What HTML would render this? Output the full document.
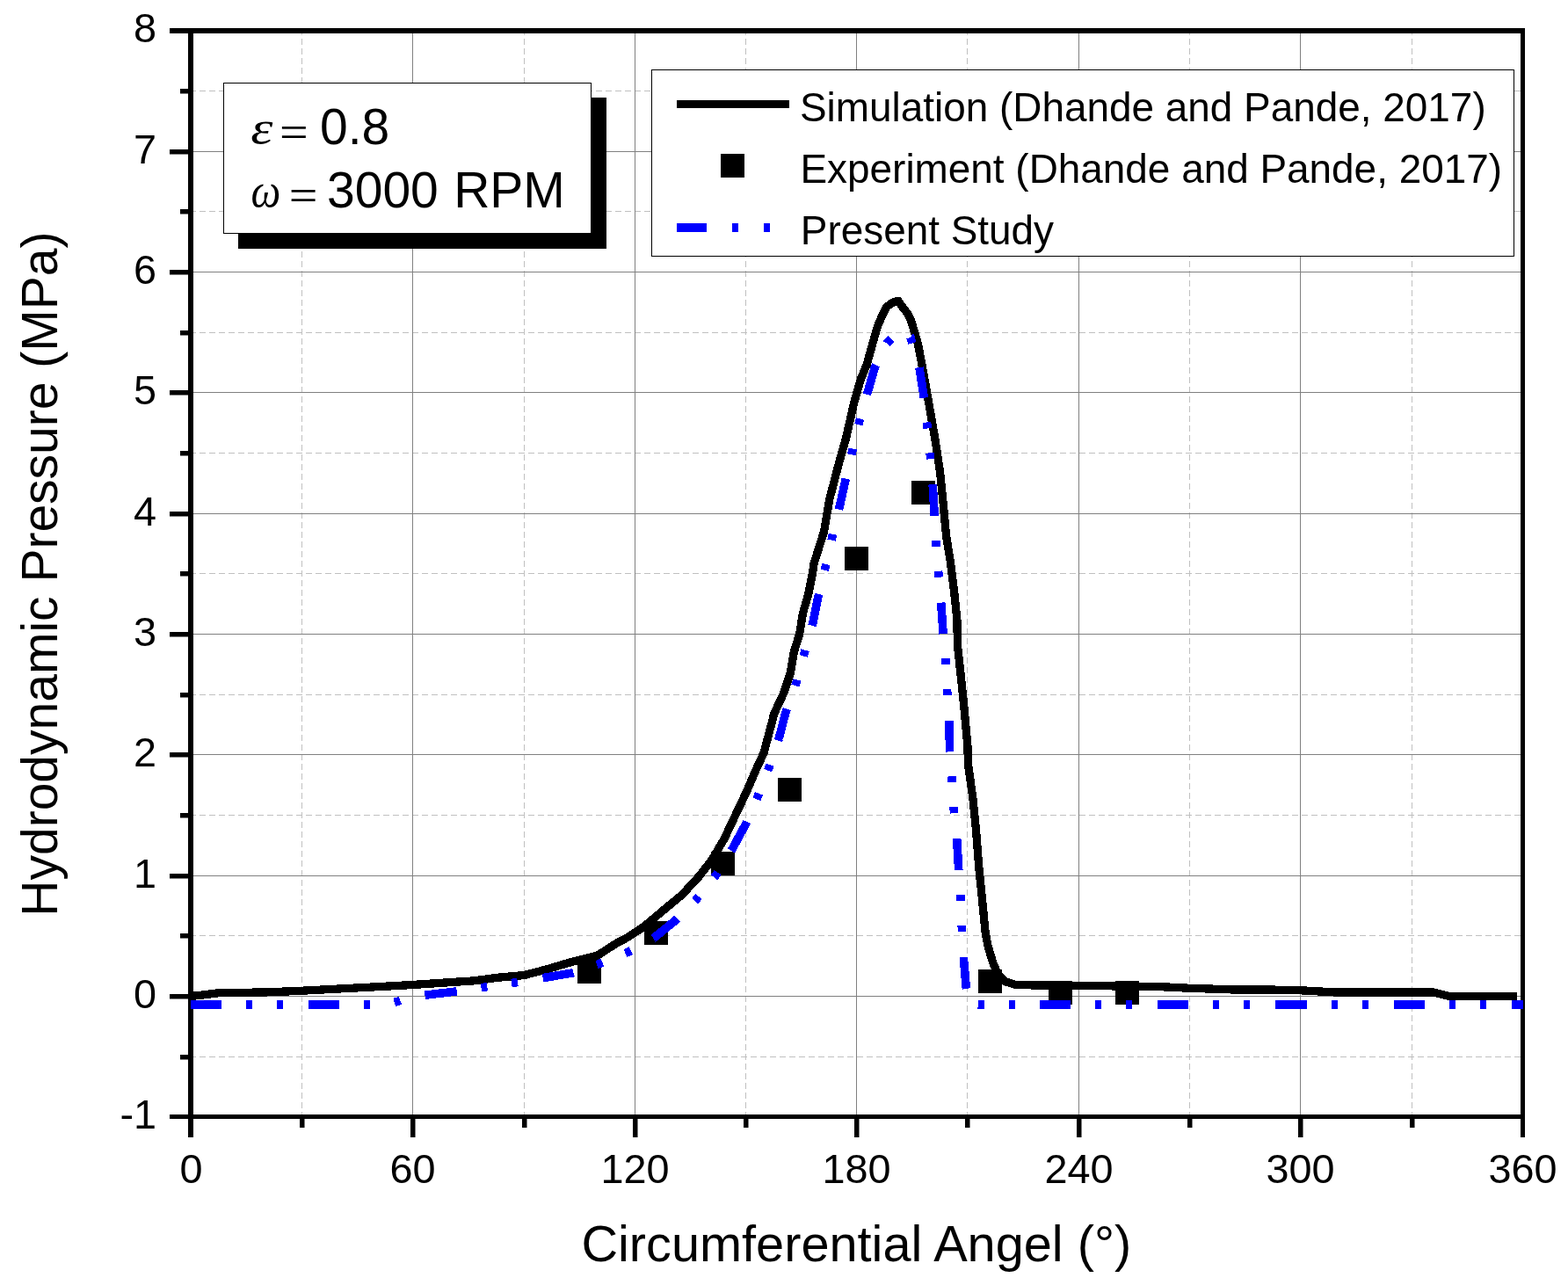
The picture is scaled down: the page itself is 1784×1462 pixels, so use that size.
<!DOCTYPE html>
<html><head><meta charset="utf-8"><title>Hydrodynamic Pressure</title>
<style>html,body{margin:0;padding:0;background:#fff;width:1784px;height:1462px;overflow:hidden}svg{display:block}</style>
</head><body>
<svg width="1784" height="1462" viewBox="0 0 1784 1462"><g stroke="#c0c0c0" stroke-width="1" stroke-dasharray="7 4" fill="none" shape-rendering="crispEdges"><line x1="343.5" y1="33" x2="343.5" y2="1268" /><line x1="596.5" y1="33" x2="596.5" y2="1268" /><line x1="848.5" y1="33" x2="848.5" y2="1268" /><line x1="1100.5" y1="33" x2="1100.5" y2="1268" /><line x1="1353.5" y1="33" x2="1353.5" y2="1268" /><line x1="1606.5" y1="33" x2="1606.5" y2="1268" /><line x1="216" y1="1202.5" x2="1730" y2="1202.5" /><line x1="216" y1="1064.5" x2="1730" y2="1064.5" /><line x1="216" y1="927.5" x2="1730" y2="927.5" /><line x1="216" y1="790.5" x2="1730" y2="790.5" /><line x1="216" y1="652.5" x2="1730" y2="652.5" /><line x1="216" y1="515.5" x2="1730" y2="515.5" /><line x1="216" y1="378.5" x2="1730" y2="378.5" /><line x1="216" y1="240.5" x2="1730" y2="240.5" /><line x1="216" y1="103.5" x2="1730" y2="103.5" /></g>
<g stroke="#808080" stroke-width="1" fill="none" shape-rendering="crispEdges"><line x1="469.5" y1="38" x2="469.5" y2="1268" /><line x1="722.5" y1="38" x2="722.5" y2="1268" /><line x1="974.5" y1="38" x2="974.5" y2="1268" /><line x1="1227.5" y1="38" x2="1227.5" y2="1268" /><line x1="1479.5" y1="38" x2="1479.5" y2="1268" /><line x1="220" y1="1133.5" x2="1730" y2="1133.5" /><line x1="220" y1="996.5" x2="1730" y2="996.5" /><line x1="220" y1="858.5" x2="1730" y2="858.5" /><line x1="220" y1="721.5" x2="1730" y2="721.5" /><line x1="220" y1="584.5" x2="1730" y2="584.5" /><line x1="220" y1="446.5" x2="1730" y2="446.5" /><line x1="220" y1="309.5" x2="1730" y2="309.5" /><line x1="220" y1="172.5" x2="1730" y2="172.5" /></g>
<g fill="#000"><rect x="193" y="32" width="1542" height="6" /><rect x="214" y="32" width="6" height="1262" /><rect x="193" y="1268" width="1542" height="5" /><rect x="1730" y="32" width="5" height="1262" /><rect x="341" y="1270" width="5.5" height="13" /><rect x="467" y="1270" width="5.5" height="24" /><rect x="594" y="1270" width="5.5" height="13" /><rect x="720" y="1270" width="5.5" height="24" /><rect x="846" y="1270" width="5.5" height="13" /><rect x="972" y="1270" width="5.5" height="24" /><rect x="1098" y="1270" width="5.5" height="13" /><rect x="1225" y="1270" width="5.5" height="24" /><rect x="1351" y="1270" width="5.5" height="13" /><rect x="1477" y="1270" width="5.5" height="24" /><rect x="1604" y="1270" width="5.5" height="13" /><rect x="205" y="1200" width="12" height="5.5" /><rect x="193" y="1131" width="24" height="5.5" /><rect x="205" y="1062" width="12" height="5.5" /><rect x="193" y="994" width="24" height="5.5" /><rect x="205" y="925" width="12" height="5.5" /><rect x="193" y="856" width="24" height="5.5" /><rect x="205" y="788" width="12" height="5.5" /><rect x="193" y="719" width="24" height="5.5" /><rect x="205" y="650" width="12" height="5.5" /><rect x="193" y="582" width="24" height="5.5" /><rect x="205" y="513" width="12" height="5.5" /><rect x="193" y="444" width="24" height="5.5" /><rect x="205" y="376" width="12" height="5.5" /><rect x="193" y="307" width="24" height="5.5" /><rect x="205" y="238" width="12" height="5.5" /><rect x="193" y="170" width="24" height="5.5" /><rect x="205" y="101" width="12" height="5.5" /></g>
<rect x="656.9" y="1091.9" width="27" height="27" fill="#000" shape-rendering="crispEdges" />
<rect x="733.0" y="1047.9" width="27" height="27" fill="#000" shape-rendering="crispEdges" />
<rect x="808.9" y="968.8" width="27" height="27" fill="#000" shape-rendering="crispEdges" />
<rect x="885.0" y="884.8" width="27" height="27" fill="#000" shape-rendering="crispEdges" />
<rect x="961.0" y="622.1" width="27" height="27" fill="#000" shape-rendering="crispEdges" />
<rect x="1037.0" y="546.7" width="27" height="27" fill="#000" shape-rendering="crispEdges" />
<rect x="1113.1" y="1103.4" width="27" height="27" fill="#000" shape-rendering="crispEdges" />
<rect x="1193.2" y="1116.0" width="27" height="27" fill="#000" shape-rendering="crispEdges" />
<rect x="1269.0" y="1115.8" width="27" height="27" fill="#000" shape-rendering="crispEdges" />
<polyline points="217.0,1133.6 250.0,1129.6 300.0,1129.0 340.0,1127.4 420.0,1123.2 469.5,1120.5 540.0,1115.8 566.9,1112.2 596.5,1109.5 620.7,1103.2 647.6,1095.2 680.0,1087.0 700.0,1074.0 714.0,1066.5 733.0,1054.0 757.0,1033.8 776.0,1018.0 795.0,997.5 810.0,978.3 824.0,954.4 836.9,927.1 849.2,901.2 860.3,875.4 868.9,856.9 873.8,838.5 878.8,820.0 880.5,812.5 891.5,788.9 899.4,765.3 903.3,741.7 909.6,721.5 913.5,697.6 919.8,675.6 924.5,651.9 926.1,640.9 931.6,623.6 937.5,605.0 943.8,567.8 954.7,526.2 962.6,498.4 971.5,458.8 979.5,431.0 986.2,414.9 992.3,392.7 998.5,371.2 1004.6,357.0 1008.9,349.0 1015.7,344.1 1021.9,342.2 1028.0,350.9 1032.9,357.0 1036.6,365.0 1040.3,377.3 1044.0,389.6 1046.5,402.0 1048.9,414.9 1056.8,458.8 1063.7,498.4 1069.7,538.1 1073.6,577.7 1076.6,609.9 1081.2,638.3 1086.0,676.6 1088.9,705.4 1089.4,734.1 1093.6,772.4 1097.5,810.7 1100.9,849.0 1101.5,870.0 1106.9,908.3 1110.7,946.6 1113.6,984.8 1116.5,1013.5 1119.3,1042.2 1121.2,1061.4 1124.1,1076.7 1129.9,1095.8 1135.6,1109.2 1144.2,1116.9 1155.7,1120.5 1180.0,1121.0 1222.5,1121.4 1315.0,1122.4 1352.0,1124.2 1407.5,1126.1 1440.0,1126.0 1474.8,1126.5 1521.7,1129.1 1631.1,1129.1 1648.5,1133.4 1725.8,1133.4" fill="none" stroke="#000" stroke-width="9.3" stroke-linejoin="round" shape-rendering="crispEdges" />
<g fill="none" stroke="#0000ff" stroke-width="9.6" stroke-dasharray="35 28 7 28 7 29" stroke-linejoin="miter" shape-rendering="crispEdges"><polyline points="217.0,1143.0 351.0,1143.0" /><polyline points="351.0,1143.0 386.0,1143.0 421.0,1143.0 440.0,1142.6 452.5,1139.3 465.0,1134.3 485.0,1132.0" /><polyline points="485.0,1132.0 519.0,1128.0 550.7,1123.2 585.7,1118.0 618.0,1112.6" /><polyline points="618.0,1112.6 652.1,1106.8 681.7,1096.5 714.6,1083.3 743.6,1067.4" /><polyline points="743.6,1067.4 768.5,1047.2 791.5,1024.3 815.0,995.1 833.2,965.8" /><polyline points="833.2,965.8 849.2,936.3 862.2,906.2 875.3,872.3 886.2,840.3" /><polyline points="886.2,840.3 893.5,812.0 905.6,777.9 915.1,743.2 924.5,710.2" /><polyline points="924.5,710.2 930.8,679.5 938.7,646.9 946.8,611.0 954.7,578.7" /><polyline points="954.7,578.7 961.6,548.0 969.2,515.3 977.5,480.6 986.4,448.9" /><polyline points="986.4,448.9 995.3,418.1 1009.2,390.4 1024.0,376.0 1036.0,383.8 1045.9,418.1" /><polyline points="1045.9,418.1 1050.8,448.9 1054.8,482.6 1058.4,518.3 1061.2,552.0" /><polyline points="1061.2,552.0 1063.1,583.7 1064.9,617.2 1067.8,652.7 1070.7,686.2" /><polyline points="1070.7,686.2 1073.0,718.8 1076.0,751.9 1077.7,787.4 1079.8,820.3" /><polyline points="1079.8,820.3 1080.6,854.8 1083.0,886.3 1085.3,922.1 1088.7,955.2" /><polyline points="1088.7,955.2 1090.6,987.7 1092.9,1021.2 1094.4,1057.2 1096.4,1090.1" /><polyline points="1096.4,1090.1 1099.2,1122.6 1102.5,1142.6 1114.5,1143.0 1183.1,1143.0" /><polyline points="1183.1,1143.0 1317.2,1143.0" /><polyline points="1317.2,1143.0 1452.2,1143.0" /><polyline points="1452.2,1143.0 1586.0,1143.0" /><polyline points="1586.0,1143.0 1721.0,1143.0" /><polyline points="1721.0,1143.0 1732.5,1143.0" /></g>
<g font-family="Liberation Sans, Arial, sans-serif" font-size="46.8" fill="#000"><text x="217.5" y="1345.5" text-anchor="middle">0</text><text x="469.5" y="1345.5" text-anchor="middle">60</text><text x="722.5" y="1345.5" text-anchor="middle">120</text><text x="974.5" y="1345.5" text-anchor="middle">180</text><text x="1227.5" y="1345.5" text-anchor="middle">240</text><text x="1479.5" y="1345.5" text-anchor="middle">300</text><text x="1732.5" y="1345.5" text-anchor="middle">360</text><text x="178" y="1283.8" text-anchor="end">-1</text><text x="178" y="1146.8" text-anchor="end">0</text><text x="178" y="1009.8" text-anchor="end">1</text><text x="178" y="871.8" text-anchor="end">2</text><text x="178" y="734.8" text-anchor="end">3</text><text x="178" y="597.8" text-anchor="end">4</text><text x="178" y="459.8" text-anchor="end">5</text><text x="178" y="322.8" text-anchor="end">6</text><text x="178" y="185.8" text-anchor="end">7</text><text x="178" y="47.8" text-anchor="end">8</text></g>
<text x="974.3" y="1434.6" text-anchor="middle" font-family="Liberation Sans, Arial, sans-serif" font-size="57.7">Circumferential Angel (°)</text>
<text transform="translate(65,653.1) rotate(-90)" text-anchor="middle" font-family="Liberation Sans, Arial, sans-serif" font-size="57">Hydrodynamic Pressure (MPa)</text>
<rect x="271" y="111" width="419" height="172" fill="#000" />
<rect x="254.5" y="94.5" width="418" height="171" fill="#fff" stroke="#000" stroke-width="1" />
<text transform="translate(285.2,163.2) scale(1.16,0.95)" font-family="Liberation Serif, Times New Roman, serif" font-style="italic" font-size="55">ε</text>
<text transform="translate(318,168.2) scale(1,0.9)" font-family="Liberation Serif, Times New Roman, serif" font-size="58">=</text>
<text x="364" y="163.5" font-family="Liberation Sans, Arial, sans-serif" font-size="57">0.8</text>
<text transform="translate(285.5,235) scale(0.87,1)" font-family="Liberation Serif, Times New Roman, serif" font-style="italic" font-size="55">ω</text>
<text transform="translate(328.7,240.1) scale(1,0.9)" font-family="Liberation Serif, Times New Roman, serif" font-size="58">=</text>
<text x="372" y="235.5" font-family="Liberation Sans, Arial, sans-serif" font-size="57">3000</text><text x="516.2" y="235.5" font-family="Liberation Sans, Arial, sans-serif" font-size="57">RPM</text>
<rect x="741.5" y="79.5" width="981" height="212" fill="#fff" stroke="#000" stroke-width="1" />
<rect x="770" y="114" width="128" height="9" fill="#000" />
<rect x="820" y="175" width="27" height="27" fill="#000" shape-rendering="crispEdges" />
<g fill="#0000ff"><rect x="770" y="254" width="34" height="10" /><rect x="833" y="254" width="7" height="10" /><rect x="869" y="254" width="7" height="10" /></g>
<g font-family="Liberation Sans, Arial, sans-serif" font-size="45.9" fill="#000"><text x="910" y="137.6">Simulation (Dhande and Pande, 2017)</text><text x="910.5" y="207.9">Experiment (Dhande and Pande, 2017)</text><text x="910.8" y="277.9">Present Study</text></g></svg>
</body></html>
